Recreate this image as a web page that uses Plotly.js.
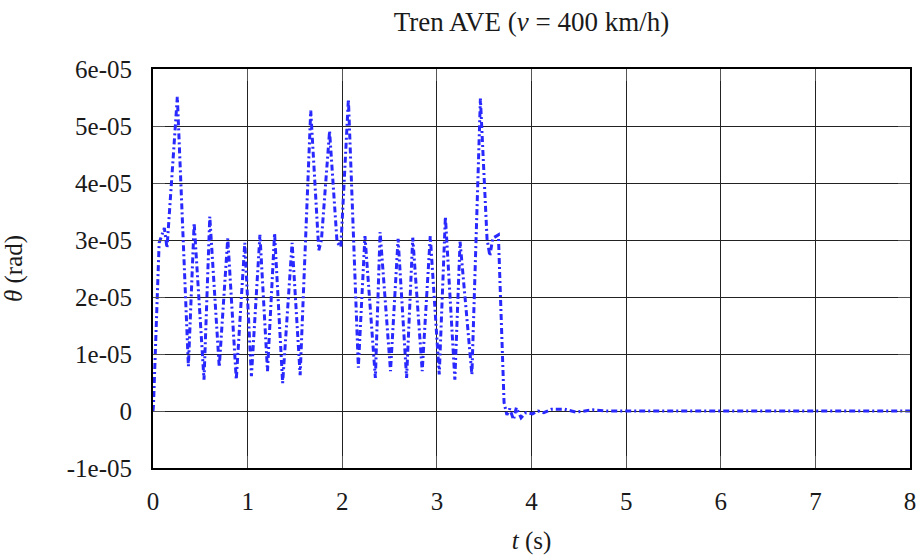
<!DOCTYPE html>
<html>
<head>
<meta charset="utf-8">
<script src="https://cdn.plot.ly/plotly-3.0.1.min.js"></script>
<style>
  html, body { margin: 0; padding: 0; background: #fff; }
  #chart { width: 922px; height: 558px; }
</style>
</head>
<body>
<div id="chart"></div>
<script>
// Time (s)
const timeS = [
  0.00, 0.005, 0.065, 0.12, 0.148, 0.257, 0.374, 0.435, 0.539, 0.600,
  0.70, 0.79, 0.88, 0.97, 1.04, 1.13, 1.21, 1.285, 1.37, 1.47,
  1.555, 1.667, 1.752, 1.78, 1.866, 1.945, 1.985, 2.065, 2.17, 2.24,
  2.35, 2.40, 2.51, 2.59, 2.68, 2.745, 2.845, 2.93, 3.025, 3.09,
  3.19, 3.245, 3.37, 3.46, 3.53, 3.56, 3.59, 3.65, 3.71, 3.74,
  3.77, 3.81, 3.84, 3.89, 3.94, 4.01, 4.07, 4.13, 4.21, 4.35,
  4.47, 4.65, 4.8, 5.0, 6.0, 7.0, 8.0
];
// Rotation theta (rad)
const thetaRad = [
  0.0, 0.1e-5, 2.95e-5, 3.21e-5, 2.86e-5, 5.51e-5, 0.785e-5, 3.30e-5, 0.55e-5, 3.41e-5,
  0.77e-5, 3.03e-5, 0.55e-5, 2.95e-5, 0.61e-5, 3.09e-5, 0.70e-5, 3.12e-5, 0.49e-5, 2.95e-5,
  0.63e-5, 5.27e-5, 2.82e-5, 3.0e-5, 4.91e-5, 2.96e-5, 2.88e-5, 5.47e-5, 0.76e-5, 3.07e-5,
  0.58e-5, 3.14e-5, 0.70e-5, 3.02e-5, 0.58e-5, 3.04e-5, 0.70e-5, 3.07e-5, 0.64e-5, 3.41e-5,
  0.55e-5, 2.97e-5, 0.64e-5, 5.48e-5, 3.02e-5, 2.72e-5, 3.03e-5, 3.09e-5, 0.15e-5, -0.07e-5,
  0.04e-5, -0.15e-5, 0.06e-5, -0.12e-5, -0.03e-5, -0.05e-5, 0.0, -0.03e-5, 0.03e-5, 0.03e-5,
  -0.02e-5, 0.02e-5, 0.0, 0.0, 0.0, 0.0, 0.0
];

const xTickVals = [0, 1, 2, 3, 4, 5, 6, 7, 8];
const xTickText = ["0", "1", "2", "3", "4", "5", "6", "7", "8"];
const yTickVals = [-1e-5, 0, 1e-5, 2e-5, 3e-5, 4e-5, 5e-5, 6e-5];
const yTickText = ["-1e-05", "0", "1e-05", "2e-05", "3e-05", "4e-05", "5e-05", "6e-05"];

const serif = "Liberation Serif, Times New Roman, serif";
const txt = "#1a1a1a";
const NB = "\u00A0";

const trace = {
  x: timeS,
  y: thetaRad,
  type: "scatter",
  mode: "lines",
  line: { color: "rgb(40,40,255)", width: 3, dash: "6px,3px,2px,3px" },
  hoverinfo: "skip",
  showlegend: false
};

const axisCommon = {
  showline: true,
  linecolor: "#000",
  linewidth: 2,
  mirror: "allticks",
  ticks: "inside",
  ticklen: 12,
  tickwidth: 1,
  tickcolor: "#555",
  showgrid: true,
  gridcolor: "#222",
  gridwidth: 1,
  zeroline: false,
  tickfont: { family: serif, size: 25, color: txt },
  tickmode: "array",
  fixedrange: true
};

const layout = {
  width: 922,
  height: 558,
  margin: { l: 153, r: 12, t: 69, b: 90 },
  paper_bgcolor: "#fff",
  plot_bgcolor: "#fff",
  title: {
    text: "Tren AVE (<i>v</i>" + NB + "=" + NB + "400 km/h)",
    font: { family: serif, size: 27, color: txt },
    x: 0.5, xref: "paper", xanchor: "center",
    y: 1 - 22 / 558, yref: "container", yanchor: "middle"
  },
  xaxis: Object.assign({}, axisCommon, {
    range: [0, 8],
    tickvals: xTickVals,
    ticktext: xTickText,
    ticklabelstandoff: 10,
    title: { text: "<i>t</i> (s)", font: { family: serif, size: 25, color: txt }, standoff: 17 }
  }),
  yaxis: Object.assign({}, axisCommon, {
    range: [-1e-5, 6e-5],
    tickvals: yTickVals,
    ticktext: yTickText,
    ticklabelstandoff: 14,
    title: { text: "<i>θ</i> (rad)", font: { family: serif, size: 25, color: txt }, standoff: 40 }
  })
};

Plotly.newPlot("chart", [trace], layout, { displayModeBar: false, staticPlot: true });
</script>
</body>
</html>
